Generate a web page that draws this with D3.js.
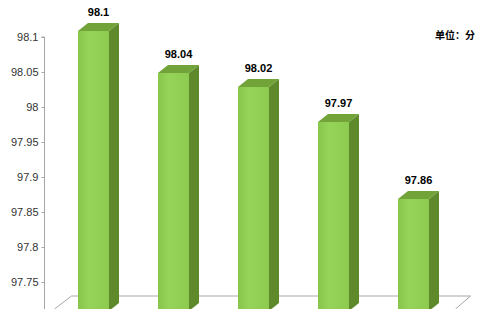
<!DOCTYPE html>
<html><head><meta charset="utf-8">
<script src="https://cdn.jsdelivr.net/npm/d3@7"></script>
<style>body{margin:0;background:#fff}svg{display:block}</style>
</head><body>
<script>
const categories = ["1", "2", "3", "4", "5"];
const values = [98.1, 98.04, 98.02, 97.97, 97.86];
const tickValues = [97.75, 97.8, 97.85, 97.9, 97.95, 98, 98.05, 98.1];
const unitLabel = "单位：分";

const W = 490, H = 309;
const svg = d3.select("body").append("svg").attr("width", W).attr("height", H);

const base = 97.7;
const y = d3.scaleLinear().domain([base, 98.1]).range([317, 37]); // axis (wall) scale
const frontOff = -6;        // front face offset relative to wall scale
const dx = 10, dy = -8;     // 3D depth

const x = d3.scaleBand().domain(categories).range([53.5, 453.5])
  .paddingInner(0.6125).paddingOuter(0.30625);
const bw = x.bandwidth();

const defs = svg.append("defs");
const g1 = defs.append("linearGradient").attr("id", "front").attr("x1", 0).attr("x2", 1);
g1.append("stop").attr("offset", 0).attr("stop-color", "#86c64a");
g1.append("stop").attr("offset", 0.35).attr("stop-color", "#96d459");
g1.append("stop").attr("offset", 1).attr("stop-color", "#8cca50");

// floor
const fy = y(base) - 21;
svg.append("path")
  .attr("d", `M${x.range()[0]+1},${fy+13}L${x.range()[0]+18},${fy}L${x.range()[1]+17},${fy}L${x.range()[1]+2},${fy+13}`)
  .attr("fill", "none").attr("stroke", "#a6a6a6").attr("stroke-width", 1);

// axis
const axis = d3.axisLeft(y).tickValues(tickValues).tickSize(3).tickPadding(3)
  .tickFormat(d => d3.format("")(+d.toFixed(2)));
const ag = svg.append("g").attr("transform", "translate(44.5,0)").call(axis);
ag.select(".domain").attr("stroke", "#a6a6a6").attr("d", `M-3,${y(98.1)}H0V${H+5}`);
ag.selectAll(".tick line").attr("stroke", "#a6a6a6");
ag.selectAll("text").attr("font-family", "Liberation Sans, Arial, sans-serif")
  .attr("font-size", 11).attr("fill", "#333");

// bars
const bars = svg.append("g").selectAll("g").data(values).join("g");
bars.each(function(v, i) {
  const g = d3.select(this);
  const x0 = x(categories[i]), x1 = x0 + bw;
  const yt = y(v) + frontOff, yb = y(base) + frontOff;
  g.append("path").attr("d", `M${x1},${yt}L${x1+dx},${yt+dy}L${x1+dx},${yb+dy}L${x1},${yb}Z`)
    .attr("fill", "#5e8a2c");
  g.append("path").attr("d", `M${x0},${yt}L${x0+dx},${yt+dy}L${x1+dx},${yt+dy}L${x1},${yt}Z`)
    .attr("fill", "#71a338");
  g.append("rect").attr("x", x0).attr("y", yt).attr("width", bw).attr("height", yb - yt)
    .attr("fill", "url(#front)");
  g.append("text").attr("x", x0 + bw / 2 + dx / 2).attr("y", yt - 15)
    .attr("text-anchor", "middle").attr("font-family", "Liberation Sans, Arial, sans-serif")
    .attr("font-weight", "bold").attr("font-size", 11).attr("fill", "#000")
    .text(d3.format("")(v));
});

svg.append("text").attr("x", 455).attr("y", 39).attr("text-anchor", "middle")
  .attr("font-family", "Noto Sans CJK SC, sans-serif").attr("font-weight", "bold")
  .attr("font-size", 10).attr("fill", "#000").text(unitLabel);
</script>
</body></html>
